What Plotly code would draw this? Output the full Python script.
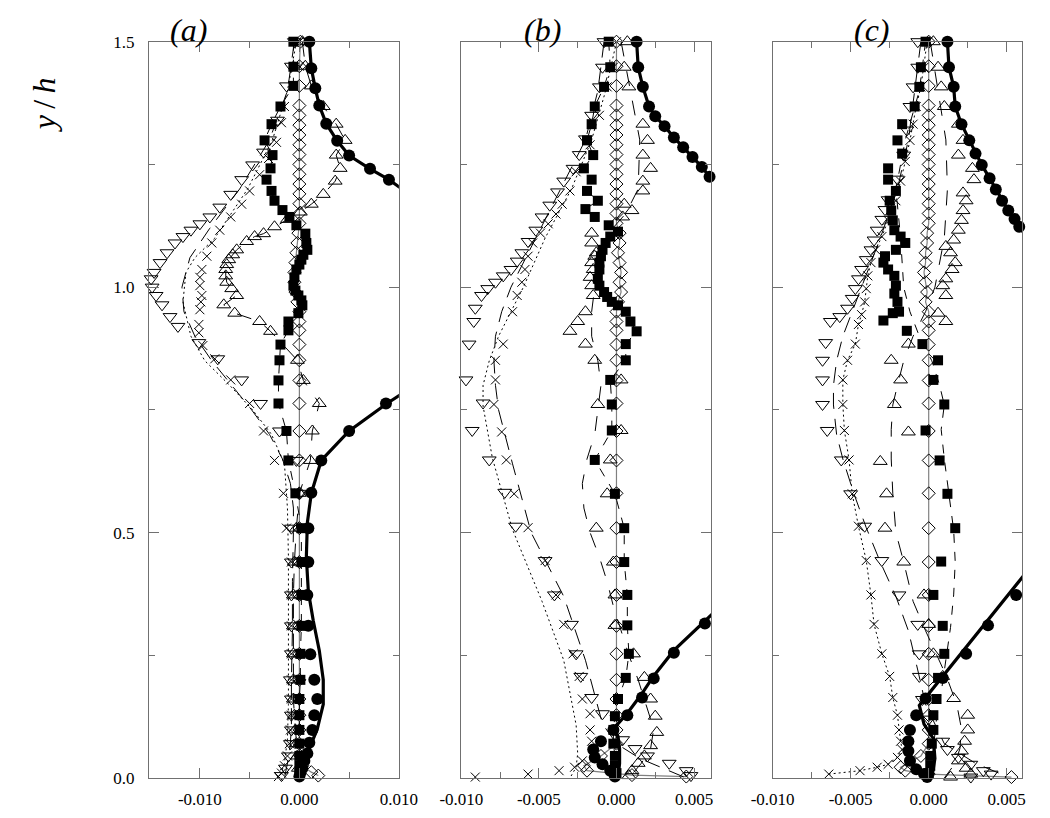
import plotly.graph_objects as go

FONT = "Liberation Serif"

# ---------------- panel (a) : pairs are [y/h, value] ----------------
A_CIRC_UP = [[1.50, 0.0010], [1.446, 0.0012], [1.405, 0.0016], [1.37, 0.0020], [1.333, 0.0027],
             [1.298, 0.0038], [1.268, 0.0050], [1.241, 0.0071], [1.219, 0.0090]]
A_CIRC_UP_LINE = A_CIRC_UP + [[1.203, 0.0101]]
A_CIRC_LO = [[0.763, 0.0087], [0.707, 0.0050], [0.647, 0.0022], [0.581, 0.0012], [0.509, 0.0009],
             [0.44, 0.0009], [0.373, 0.0008], [0.31, 0.0009], [0.252, 0.0011], [0.20, 0.0015],
             [0.161, 0.0018], [0.128, 0.0015], [0.098, 0.0013], [0.072, 0.0010], [0.05, 0.0008],
             [0.035, 0.0005], [0.02, 0.0003], [0.01, 0.0001], [0.003, 0.0]]
A_CIRC_LO_LINE = [[0.78, 0.0101], [0.763, 0.0088], [0.707, 0.0050], [0.647, 0.0022], [0.58, 0.0012],
                  [0.52, 0.0008], [0.45, 0.0007], [0.38, 0.0009], [0.32, 0.0014], [0.26, 0.0020],
                  [0.20, 0.0024], [0.15, 0.0024], [0.10, 0.0018], [0.06, 0.0010], [0.03, 0.0004], [0.0, 0.0]]
A_SQUARE = [[1.5, -0.0006], [1.449, -0.0006], [1.41, -0.0006], [1.368, -0.0019], [1.332, -0.0028],
            [1.299, -0.0035], [1.269, -0.0027], [1.242, -0.0029], [1.219, -0.0033], [1.196, -0.0028],
            [1.176, -0.0025], [1.157, -0.0017], [1.143, -0.0010], [1.126, -0.0003], [1.109, 0.0006],
            [1.09, 0.0007], [1.076, 0.0008], [1.066, 0.0004], [1.056, 0.0002], [1.046, 0.0],
            [1.036, -0.0003], [1.02, -0.0005], [1.003, -0.0006], [0.993, -0.0004], [0.983, -0.0001],
            [0.973, 0.0002], [0.963, 0.0003], [0.947, -0.0001], [0.930, -0.0011], [0.912, -0.0011],
            [0.883, -0.0019], [0.851, -0.0020], [0.81, -0.0021], [0.763, -0.0021], [0.707, -0.0013],
            [0.647, -0.0011], [0.58, -0.0004], [0.509, 0.0002], [0.44, 0.0002], [0.373, 0.0002],
            [0.31, 0.0002], [0.253, 0.0001], [0.2, 0.0001], [0.161, 0.0], [0.128, 0.0], [0.098, 0.0],
            [0.07, 0.0], [0.045, 0.0], [0.025, 0.0], [0.01, 0.0]]
A_DIAMOND = [[1.5, 0.0001], [1.45, 0.0], [1.41, 0.0], [1.37, 0.0], [1.35, 0.0], [1.33, 0.0], [1.31, 0.0],
             [1.29, 0.0], [1.27, 0.0], [1.25, 0.0], [1.23, 0.0], [1.21, 0.0], [1.19, 0.0], [1.17, 0.0],
             [1.15, 0.0], [1.13, 0.0], [1.11, -0.0001], [1.09, -0.0002], [1.07, -0.0003], [1.05, -0.0004],
             [1.03, -0.0005], [1.01, -0.0005], [0.99, -0.0004], [0.97, -0.0002], [0.95, 0.0], [0.93, 0.0],
             [0.912, 0.0], [0.883, 0.0], [0.851, 0.0], [0.81, 0.0], [0.763, 0.0], [0.707, 0.0],
             [0.647, 0.0], [0.58, 0.0], [0.509, 0.0], [0.44, 0.0], [0.373, 0.0], [0.31, 0.0],
             [0.253, 0.0], [0.2, 0.0], [0.161, 0.0], [0.128, 0.0], [0.098, 0.0], [0.07, 0.0],
             [0.045, 0.0001], [0.025, 0.0003], [0.012, 0.0012], [0.005, 0.0019]]
A_TRI_UP = [[1.5, 0.0003], [1.45, 0.0006], [1.41, 0.0012], [1.368, 0.0024], [1.332, 0.0037],
            [1.299, 0.0046], [1.269, 0.0037], [1.242, 0.0041], [1.216, 0.0036], [1.189, 0.0024],
            [1.169, 0.0012], [1.153, 0.0001], [1.138, -0.0012], [1.123, -0.0025], [1.109, -0.0036],
            [1.103, -0.0045], [1.093, -0.0053], [1.076, -0.0063], [1.066, -0.0067], [1.056, -0.0071],
            [1.046, -0.0073], [1.036, -0.0074], [1.023, -0.0074], [1.01, -0.0073], [0.997, -0.0068],
            [0.983, -0.0063], [0.964, -0.0076], [0.947, -0.0065], [0.930, -0.0040], [0.910, -0.0029],
            [0.851, -0.0002], [0.81, 0.0004], [0.763, 0.0020], [0.707, 0.0013], [0.647, 0.0011],
            [0.58, 0.0], [0.509, -0.0003], [0.44, -0.0005], [0.373, -0.0006], [0.31, -0.0006],
            [0.253, -0.0006], [0.2, -0.0006], [0.161, -0.0006], [0.128, -0.0005], [0.098, -0.0004],
            [0.07, -0.0003], [0.045, -0.0002], [0.02, -0.0001]]
A_TRI_DN = [[1.5, -0.0005], [1.45, -0.0008], [1.41, -0.0013], [1.34, -0.0022], [1.30, -0.0030],
            [1.275, -0.0036], [1.249, -0.0047], [1.219, -0.0058], [1.189, -0.0069], [1.163, -0.0080],
            [1.143, -0.0090], [1.129, -0.0100], [1.116, -0.0109], [1.103, -0.0117], [1.09, -0.0125],
            [1.07, -0.0133], [1.05, -0.0140], [1.03, -0.0146], [1.017, -0.0149], [1.0, -0.0148],
            [0.983, -0.0144], [0.964, -0.0138], [0.94, -0.0130], [0.92, -0.0122], [0.887, -0.0101],
            [0.854, -0.0082], [0.811, -0.0058], [0.763, -0.0039], [0.707, -0.0020], [0.647, -0.0003],
            [0.58, 0.0], [0.509, -0.0008], [0.44, -0.0008], [0.373, -0.0008], [0.31, -0.0008],
            [0.253, -0.0008], [0.2, -0.0009], [0.161, -0.0008], [0.128, -0.0008], [0.098, -0.0008],
            [0.07, -0.0009], [0.045, -0.0011], [0.02, -0.0014], [0.005, -0.0018]]
A_TRI_DN_LINE = [[1.5, -0.0005], [1.4, -0.0012], [1.3, -0.0030], [1.2, -0.0060], [1.12, -0.0090],
                 [1.06, -0.0110], [1.0, -0.0118], [0.95, -0.0116], [0.9, -0.0105], [0.85, -0.0088],
                 [0.8, -0.0068], [0.75, -0.0048], [0.7, -0.0030], [0.65, -0.0017], [0.6, -0.0009],
                 [0.55, -0.0006], [0.5, -0.0006], [0.4, -0.0007], [0.3, -0.0007], [0.2, -0.0008],
                 [0.1, -0.0008], [0.05, -0.0010], [0.0, -0.0015]]
A_CROSS = [[1.5, 0.0], [1.45, 0.0], [1.41, -0.0006], [1.368, -0.0015], [1.335, -0.0018], [1.295, -0.0023],
           [1.262, -0.0031], [1.229, -0.0040], [1.196, -0.0050], [1.169, -0.0058], [1.143, -0.0069],
           [1.116, -0.0080], [1.09, -0.0088], [1.063, -0.0093], [1.036, -0.0098], [1.02, -0.0100],
           [1.003, -0.0100], [0.983, -0.0098], [0.97, -0.0099], [0.954, -0.0100], [0.924, -0.0101],
           [0.907, -0.0101], [0.881, -0.0097], [0.854, -0.0085], [0.811, -0.0069], [0.763, -0.0050],
           [0.707, -0.0036], [0.647, -0.0025], [0.58, -0.0016], [0.509, -0.0013], [0.44, -0.0008],
           [0.373, -0.0008], [0.31, -0.0008], [0.253, -0.0008], [0.2, -0.0008], [0.161, -0.0008],
           [0.128, -0.0008], [0.098, -0.0009], [0.07, -0.0010], [0.045, -0.0012], [0.025, -0.0015],
           [0.01, -0.0018], [0.003, -0.0021]]
A_CROSS_LINE = [[1.5, -0.0003], [1.4, -0.0012], [1.3, -0.0027], [1.2, -0.0052], [1.1, -0.0085],
                [1.06, -0.0105], [1.03, -0.0114], [0.97, -0.0117], [0.9, -0.0109], [0.85, -0.0095],
                [0.8, -0.0070], [0.75, -0.0047], [0.7, -0.0028], [0.64, -0.0015], [0.55, -0.0012],
                [0.45, -0.0011], [0.35, -0.0011], [0.25, -0.0011], [0.15, -0.0011], [0.08, -0.0012],
                [0.03, -0.0015], [0.0, -0.0020]]

# ---------------- panel (b) ----------------
B_CIRC_UP = [[1.5, 0.0013], [1.448, 0.0014], [1.408, 0.0017], [1.368, 0.0021], [1.348, 0.0025],
             [1.328, 0.0031], [1.305, 0.0037], [1.285, 0.0043], [1.265, 0.0049], [1.245, 0.0055],
             [1.225, 0.0060]]
B_CIRC_UP_LINE = B_CIRC_UP + [[1.218, 0.0062]]
B_CIRC_LO = [[0.315, 0.0057], [0.255, 0.0037], [0.203, 0.0024], [0.164, 0.00165], [0.128, 0.0007],
             [0.098, -0.0002], [0.075, -0.0010], [0.058, -0.0015], [0.042, -0.0014], [0.028, -0.0009],
             [0.015, -0.0004], [0.003, -0.0001]]
B_CIRC_LO_LINE = [[0.335, 0.0062], [0.26, 0.0037], [0.208, 0.0024], [0.17, 0.0016], [0.132, 0.0007],
                  [0.10, -0.0002], [0.085, 0.0001], [0.06, 0.0002], [0.03, 0.0002], [0.0, 0.0001]]
B_SQUARE = [[1.5, -0.0005], [1.448, -0.0004], [1.408, -0.0008], [1.368, -0.0014], [1.332, -0.0016],
            [1.299, -0.0019], [1.269, -0.0015], [1.242, -0.0021], [1.219, -0.0016], [1.196, -0.0019],
            [1.176, -0.0012], [1.159, -0.0020], [1.143, -0.0014], [1.126, -0.0005], [1.113, 0.0001],
            [1.103, -0.0004], [1.09, -0.0007], [1.076, -0.0009], [1.063, -0.0010], [1.05, -0.0011],
            [1.036, -0.0011], [1.017, -0.0012], [1.003, -0.0011], [0.99, -0.0008], [0.98, -0.0006],
            [0.97, -0.0003], [0.963, 0.0001], [0.95, 0.0006], [0.93, 0.0009], [0.91, 0.0013],
            [0.884, 0.0006], [0.851, 0.0006], [0.811, -0.0004], [0.761, -0.0003], [0.708, -0.0003],
            [0.648, -0.0014], [0.579, -0.0001], [0.509, 0.0005], [0.44, 0.0005], [0.373, 0.0007],
            [0.311, 0.0007], [0.253, 0.0008], [0.204, 0.0006], [0.161, 0.0001], [0.126, -0.0001],
            [0.098, -0.0002], [0.07, -0.0002], [0.045, -0.0001], [0.025, -0.0001], [0.01, 0.0]]
B_DIAMOND = [[1.5, 0.0], [1.45, 0.0], [1.41, 0.0], [1.37, 0.0], [1.35, 0.0], [1.33, 0.0], [1.31, 0.0],
             [1.29, 0.0], [1.27, 0.0], [1.25, 0.0], [1.23, 0.0], [1.21, 0.0], [1.19, 0.0], [1.17, 0.0],
             [1.15, 0.0], [1.13, 0.0], [1.11, 0.0002], [1.09, 0.0002], [1.07, 0.0001], [1.05, 0.0002],
             [1.03, 0.0003], [1.01, 0.0002], [0.99, 0.0003], [0.97, 0.0001], [0.95, 0.0], [0.93, 0.0],
             [0.912, 0.0], [0.883, 0.0], [0.851, 0.0], [0.81, 0.0], [0.763, 0.0], [0.707, 0.0],
             [0.647, 0.0], [0.58, 0.0], [0.509, 0.0], [0.44, 0.0], [0.373, 0.0], [0.31, 0.0],
             [0.253, 0.0], [0.2, 0.0], [0.161, 0.0], [0.128, 0.0], [0.098, 0.0], [0.07, 0.0],
             [0.045, -0.0010], [0.025, -0.0021], [0.015, -0.0019], [0.006, 0.0010], [0.003, 0.0045]]
B_TRI_UP = [[1.5, 0.0007], [1.448, 0.0005], [1.408, 0.0008], [1.332, 0.0017], [1.299, 0.0020],
            [1.269, 0.0017], [1.242, 0.0022], [1.216, 0.0017], [1.196, 0.0017], [1.169, 0.0005],
            [1.156, 0.0010], [1.143, 0.0004], [1.11, -0.0016], [1.09, -0.0016], [1.07, -0.0013],
            [1.063, -0.0014], [1.05, -0.0016], [1.036, -0.0015], [1.02, -0.0017], [1.003, -0.0016],
            [0.983, -0.0015], [0.95, -0.0020], [0.93, -0.0025], [0.91, -0.0030], [0.884, -0.0020],
            [0.851, -0.0014], [0.811, 0.0003], [0.761, -0.0012], [0.708, 0.0003], [0.648, -0.0004],
            [0.579, -0.0006], [0.509, -0.0013], [0.44, -0.0002], [0.373, -0.0001], [0.311, -0.0001],
            [0.253, 0.0011], [0.205, 0.0018], [0.161, 0.0022], [0.126, 0.0025], [0.093, 0.0026],
            [0.066, 0.0022], [0.045, 0.0018], [0.03, 0.0014], [0.015, 0.0010], [0.005, 0.0008]]
B_TRI_UP_LINE = [[1.5, 0.0003], [1.4, 0.0009], [1.3, 0.0015], [1.2, 0.0014], [1.15, 0.0006],
                 [1.1, -0.0008], [1.05, -0.0013], [1.0, -0.0014], [0.95, -0.0016], [0.9, -0.0016],
                 [0.85, -0.0012], [0.8, -0.0010], [0.75, -0.0012], [0.7, -0.0014], [0.65, -0.0019],
                 [0.6, -0.0022], [0.55, -0.0021], [0.5, -0.0017], [0.45, -0.0011], [0.4, -0.0006],
                 [0.35, -0.0002], [0.3, 0.0003], [0.25, 0.0008], [0.2, 0.0014], [0.15, 0.0019],
                 [0.1, 0.0024], [0.06, 0.0022], [0.03, 0.0016], [0.0, 0.0008]]
B_TRI_DN = [[1.5, -0.0008], [1.448, -0.0009], [1.408, -0.0011], [1.35, -0.0016], [1.302, -0.0020],
            [1.27, -0.0024], [1.242, -0.0028], [1.216, -0.0034], [1.194, -0.0038], [1.167, -0.0043],
            [1.143, -0.0048], [1.116, -0.0052], [1.093, -0.0057], [1.07, -0.0061], [1.053, -0.0064],
            [1.036, -0.0068], [1.023, -0.0073], [1.01, -0.0078], [0.997, -0.0083], [0.983, -0.0087],
            [0.957, -0.0091], [0.93, -0.0092], [0.884, -0.0095], [0.811, -0.0097], [0.764, -0.0086],
            [0.708, -0.0093], [0.648, -0.0082], [0.582, -0.0072], [0.513, -0.0065], [0.443, -0.0046],
            [0.373, -0.0040], [0.313, -0.0029], [0.253, -0.0026], [0.207, -0.0023], [0.164, -0.0016],
            [0.131, -0.0009], [0.078, 0.0004], [0.06, 0.0012], [0.045, 0.0020], [0.03, 0.0034],
            [0.015, 0.0045], [0.005, 0.0048]]
B_TRI_DN_LINE = [[1.5, -0.0008], [1.4, -0.0012], [1.3, -0.0020], [1.2, -0.0036], [1.1, -0.0052],
                 [1.05, -0.0060], [1.0, -0.0068], [0.95, -0.0074], [0.9, -0.0078], [0.85, -0.0079],
                 [0.8, -0.0078], [0.75, -0.0076], [0.7, -0.0072], [0.64, -0.0067], [0.5, -0.0055],
                 [0.37, -0.0034], [0.24, -0.0020], [0.11, -0.0009], [0.07, 0.0], [0.04, 0.0015],
                 [0.02, 0.0030], [0.0, 0.0045]]
B_CROSS = [[1.5, 0.0], [1.448, -0.0002], [1.408, -0.0006], [1.35, -0.0011], [1.29, -0.0017],
           [1.235, -0.0026], [1.196, -0.0030], [1.169, -0.0035], [1.149, -0.0039], [1.129, -0.0044],
           [1.11, -0.0049], [1.09, -0.0054], [1.063, -0.0057], [1.036, -0.0059], [1.01, -0.0061],
           [0.983, -0.0064], [0.95, -0.0067], [0.884, -0.0073], [0.851, -0.0078], [0.811, -0.0078],
           [0.761, -0.0079], [0.705, -0.0074], [0.648, -0.0071], [0.579, -0.0066], [0.51, -0.0057],
           [0.443, -0.0046], [0.373, -0.0039], [0.313, -0.0034], [0.253, -0.0028], [0.207, -0.0024],
           [0.161, -0.0022], [0.131, -0.0017], [0.098, -0.0017], [0.075, -0.0016], [0.035, -0.0022],
           [0.022, -0.0027], [0.015, -0.0037], [0.008, -0.0057], [0.002, -0.0091]]
B_CROSS_LINE = [[1.5, 0.0], [1.4, -0.0007], [1.3, -0.0016], [1.2, -0.0029], [1.1, -0.0046],
                [1.05, -0.0053], [1.0, -0.0060], [0.95, -0.0068], [0.9, -0.0076], [0.85, -0.0082],
                [0.8, -0.0086], [0.758, -0.0086], [0.652, -0.0080], [0.506, -0.0067], [0.36, -0.0048],
                [0.24, -0.0034], [0.108, -0.0026], [0.05, -0.0025], [0.022, -0.0026], [0.0, -0.0030]]

# ---------------- panel (c) ----------------
C_CIRC_UP = [[1.5, 0.0012], [1.448, 0.0013], [1.408, 0.0016], [1.368, 0.0017], [1.332, 0.0021],
             [1.299, 0.0026], [1.272, 0.0030], [1.249, 0.0034], [1.222, 0.0039], [1.199, 0.0043],
             [1.176, 0.0047], [1.156, 0.0051], [1.139, 0.0055], [1.123, 0.0058]]
C_CIRC_UP_LINE = C_CIRC_UP + [[1.11, 0.0061]]
C_CIRC_LO = [[0.373, 0.0056], [0.311, 0.0038], [0.253, 0.0024], [0.204, 0.0009], [0.162, -0.0002],
             [0.128, -0.0008], [0.098, -0.0012], [0.075, -0.0013], [0.055, -0.0013], [0.035, -0.0012],
             [0.018, -0.0008], [0.008, -0.0003], [0.002, -0.0001]]
C_CIRC_LO_LINE = [[0.413, 0.0061], [0.294, 0.0031], [0.214, 0.0011], [0.148, -0.0006], [0.11, -0.0003],
                  [0.08, 0.0003], [0.04, 0.0004], [0.0, 0.0002]]
C_SQUARE = [[1.5, -0.0002], [1.448, -0.0005], [1.408, -0.0006], [1.368, -0.0009], [1.332, -0.0017],
            [1.299, -0.0020], [1.272, -0.0017], [1.242, -0.0026], [1.219, -0.0026], [1.196, -0.0021],
            [1.176, -0.0025], [1.156, -0.0024], [1.136, -0.0023], [1.116, -0.0022], [1.103, -0.0018],
            [1.09, -0.0015], [1.076, -0.0021], [1.063, -0.0028], [1.05, -0.0029], [1.036, -0.0026],
            [1.023, -0.0022], [1.003, -0.0021], [0.987, -0.0022], [0.97, -0.0020], [0.95, -0.0019],
            [0.947, -0.0023], [0.932, -0.0029], [0.911, -0.0014], [0.884, -0.0004], [0.851, 0.0006],
            [0.811, 0.0003], [0.761, 0.0010], [0.708, -0.0002], [0.647, 0.0007], [0.579, 0.0012],
            [0.509, 0.0017], [0.441, 0.0008], [0.373, 0.0003], [0.31, 0.0009], [0.253, 0.0010],
            [0.204, 0.0006], [0.161, 0.0005], [0.128, 0.0003], [0.098, 0.0003], [0.07, 0.0002],
            [0.045, 0.0001], [0.025, 0.0001], [0.01, 0.0]]
C_SQUARE_LINE = [[1.5, -0.0002], [1.4, -0.0006], [1.3, -0.0015], [1.2, -0.0021], [1.1, -0.0018],
                 [1.0, -0.0016], [0.95, -0.0012], [0.9, -0.0006], [0.85, 0.0002], [0.8, 0.0007],
                 [0.76, 0.0010], [0.71, 0.0008], [0.65, 0.0010], [0.58, 0.0013], [0.505, 0.0016],
                 [0.44, 0.0017], [0.373, 0.0016], [0.307, 0.0014], [0.24, 0.0011], [0.174, 0.0008],
                 [0.12, 0.0005], [0.06, 0.0003], [0.0, 0.0]]
C_DIAMOND = [[1.5, 0.0], [1.45, 0.0], [1.41, 0.0], [1.37, 0.0], [1.35, 0.0], [1.33, 0.0], [1.31, 0.0],
             [1.29, 0.0], [1.27, 0.0], [1.25, 0.0], [1.23, 0.0], [1.21, 0.0], [1.19, 0.0], [1.17, 0.0],
             [1.15, 0.0], [1.13, 0.0], [1.11, -0.0001], [1.09, -0.0001], [1.07, -0.0002], [1.05, -0.0002],
             [1.03, -0.0003], [1.01, -0.0002], [0.99, -0.0001], [0.97, -0.0002], [0.95, 0.0], [0.93, 0.0],
             [0.912, 0.0], [0.883, 0.0], [0.851, 0.0], [0.81, 0.0], [0.763, 0.0], [0.707, 0.0],
             [0.647, 0.0], [0.58, 0.0], [0.509, 0.0], [0.44, 0.0], [0.373, 0.0], [0.31, 0.0],
             [0.253, 0.0], [0.2, 0.0], [0.161, 0.0], [0.128, 0.0], [0.098, 0.0], [0.07, 0.0],
             [0.045, -0.0005], [0.022, -0.0018], [0.015, -0.0015], [0.008, 0.0], [0.002, 0.0053]]
C_TRI_UP = [[1.5, 0.0003], [1.448, 0.0006], [1.408, 0.0008], [1.368, 0.0010], [1.332, 0.0019],
            [1.299, 0.0022], [1.269, 0.0019], [1.242, 0.0028], [1.219, 0.0029], [1.192, 0.0022],
            [1.176, 0.0024], [1.156, 0.0022], [1.136, 0.0021], [1.116, 0.0019], [1.096, 0.0016],
            [1.083, 0.0011], [1.07, 0.0014], [1.05, 0.0017], [1.036, 0.0015], [1.017, 0.0011],
            [1.003, 0.0009], [0.983, 0.0011], [0.947, 0.0006], [0.93, 0.0011], [0.884, -0.0013],
            [0.851, -0.0024], [0.811, -0.0018], [0.761, -0.0022], [0.705, -0.0013], [0.645, -0.0031],
            [0.579, -0.0027], [0.509, -0.0028], [0.44, -0.0016], [0.373, -0.0003], [0.313, 0.0],
            [0.253, 0.0003], [0.207, 0.0009], [0.162, 0.0016], [0.128, 0.0025], [0.098, 0.0025],
            [0.075, 0.0023], [0.055, 0.0021], [0.035, 0.0019], [0.02, 0.0024], [0.008, 0.0027],
            [0.002, 0.0014]]
C_TRI_UP_LINE = [[1.5, 0.0001], [1.4, 0.0006], [1.3, 0.0011], [1.2, 0.0012], [1.1, 0.0010],
                 [1.0, 0.0004], [0.95, -0.0002], [0.9, -0.0010], [0.85, -0.0016], [0.8, -0.0020],
                 [0.76, -0.0023], [0.71, -0.0024], [0.65, -0.0024], [0.58, -0.0023], [0.5, -0.0021],
                 [0.44, -0.0016], [0.36, -0.0010], [0.3, -0.0002], [0.21, 0.0011], [0.15, 0.0018],
                 [0.1, 0.0021], [0.06, 0.0020], [0.03, 0.0017], [0.0, 0.0010]]
C_TRI_DN = [[1.5, -0.0007], [1.448, -0.0007], [1.408, -0.0010], [1.368, -0.0012], [1.32, -0.0014],
            [1.269, -0.0016], [1.22, -0.0020], [1.178, -0.0026], [1.158, -0.0028], [1.138, -0.0030],
            [1.116, -0.0033], [1.096, -0.0035], [1.076, -0.0037], [1.056, -0.0040], [1.036, -0.0043],
            [1.017, -0.0045], [0.997, -0.0047], [0.977, -0.0049], [0.957, -0.0052], [0.94, -0.0057],
            [0.93, -0.0063], [0.887, -0.0066], [0.851, -0.0068], [0.811, -0.0068], [0.761, -0.0068],
            [0.708, -0.0065], [0.648, -0.0056], [0.579, -0.0050], [0.513, -0.0041], [0.443, -0.0030],
            [0.373, -0.0019], [0.313, -0.0007], [0.253, -0.0006], [0.207, -0.0006], [0.16, -0.0004],
            [0.12, 0.0], [0.075, 0.0009], [0.058, 0.0012], [0.042, 0.0019], [0.028, 0.0027],
            [0.015, 0.0035], [0.008, 0.0040], [0.002, 0.0027]]
C_TRI_DN_LINE = [[1.5, -0.0005], [1.4, -0.0009], [1.3, -0.0013], [1.2, -0.0020], [1.1, -0.0031],
                 [1.0, -0.0043], [0.95, -0.0049], [0.9, -0.0055], [0.85, -0.0059], [0.8, -0.0061],
                 [0.76, -0.0061], [0.70, -0.0059], [0.65, -0.0055], [0.58, -0.0048], [0.51, -0.0040],
                 [0.44, -0.0031], [0.37, -0.0021], [0.30, -0.0013], [0.22, -0.0007], [0.15, -0.0002],
                 [0.07, 0.0010], [0.03, 0.0030], [0.01, 0.0045], [0.0, 0.0050]]
C_CROSS = [[1.5, -0.0001], [1.448, -0.0003], [1.408, -0.0005], [1.368, -0.0008], [1.332, -0.0010],
           [1.299, -0.0012], [1.256, -0.0015], [1.216, -0.0018], [1.176, -0.0021], [1.136, -0.0026],
           [1.103, -0.0030], [1.076, -0.0034], [1.05, -0.0037], [1.023, -0.0039], [0.997, -0.0040],
           [0.97, -0.0041], [0.944, -0.0043], [0.924, -0.0045], [0.884, -0.0047], [0.851, -0.0052],
           [0.811, -0.0055], [0.761, -0.0055], [0.708, -0.0054], [0.648, -0.0051], [0.579, -0.0049],
           [0.513, -0.0045], [0.443, -0.0040], [0.373, -0.0037], [0.313, -0.0035], [0.253, -0.0030],
           [0.207, -0.0025], [0.164, -0.0023], [0.128, -0.0020], [0.098, -0.0019], [0.075, -0.0018],
           [0.058, -0.0017], [0.042, -0.0020], [0.028, -0.0026], [0.022, -0.0033], [0.015, -0.0044],
           [0.008, -0.0064]]

PANELS = [
    dict(circ_up=A_CIRC_UP, circ_up_line=A_CIRC_UP_LINE, circ_lo=A_CIRC_LO, circ_lo_line=A_CIRC_LO_LINE,
         square=A_SQUARE, square_line=A_SQUARE, diamond=A_DIAMOND, tri_up=A_TRI_UP, tri_up_line=A_TRI_UP,
         tri_dn=A_TRI_DN, tri_dn_line=A_TRI_DN_LINE, cross=A_CROSS, cross_line=A_CROSS_LINE),
    dict(circ_up=B_CIRC_UP, circ_up_line=B_CIRC_UP_LINE, circ_lo=B_CIRC_LO, circ_lo_line=B_CIRC_LO_LINE,
         square=B_SQUARE, square_line=B_SQUARE, diamond=B_DIAMOND, tri_up=B_TRI_UP, tri_up_line=B_TRI_UP_LINE,
         tri_dn=B_TRI_DN, tri_dn_line=B_TRI_DN_LINE, cross=B_CROSS, cross_line=B_CROSS_LINE),
    dict(circ_up=C_CIRC_UP, circ_up_line=C_CIRC_UP_LINE, circ_lo=C_CIRC_LO, circ_lo_line=C_CIRC_LO_LINE,
         square=C_SQUARE, square_line=C_SQUARE_LINE, diamond=C_DIAMOND, tri_up=C_TRI_UP, tri_up_line=C_TRI_UP_LINE,
         tri_dn=C_TRI_DN, tri_dn_line=C_TRI_DN_LINE, cross=C_CROSS, cross_line=C_CROSS),
]
PANEL_LABELS = ["(a)", "(b)", "(c)"]
X_RANGES = [[-0.0151, 0.0100], [-0.0100, 0.0061], [-0.0100, 0.0060]]
X_TICKS = [[-0.010, 0.0, 0.010], [-0.010, -0.005, 0.0, 0.005], [-0.010, -0.005, 0.0, 0.005]]
X_TICKTEXT = [["-0.010", "0.000", "0.010"], ["-0.010", "-0.005", "0.000", "0.005"],
              ["-0.010", "-0.005", "0.000", "0.005"]]
X_MINOR = [0.005, 0.0025, 0.0025]
Y_TICKS = [0.0, 0.5, 1.0, 1.5]
Y_TICKTEXT = ["0.0", "0.5", "1.0", "1.5"]

# the page body adds an 8 px margin on every side: size the figure so the page is exactly 1050x818
OFF = 8
W, H = 1050 - OFF, 818 - 2 * OFF
X_DOMAINS_PX = [(132, 392), (457, 717), (781, 1041)]
Y_DOMAIN_PX = (33.3, 787.5)
LABEL_X_PX = [173, 541, 885]
LABEL_Y_PX = 21
YTITLE_PX = (22, 98)

K = "black"
MARK = {
    "circ": dict(symbol="circle", size=12, color=K, line=dict(width=0)),
    "square": dict(symbol="square", size=10, color=K, line=dict(width=0)),
    "diamond": dict(symbol="diamond-open", size=10, color=K, line=dict(width=1, color=K)),
    "tri_up": dict(symbol="triangle-up-open", size=12, color=K, line=dict(width=1, color=K)),
    "tri_dn": dict(symbol="triangle-down-open", size=12, color=K, line=dict(width=1, color=K)),
    "cross": dict(symbol="x-thin-open", size=9, color=K, line=dict(width=1, color=K)),
}
LINE = {
    "circ": dict(color=K, width=3.2),
    "square": dict(color=K, width=1, dash="dash"),
    "diamond": dict(color="#808080", width=1.2),
    "tri_up": dict(color=K, width=1, dash="longdash"),
    "tri_dn": dict(color=K, width=1, dash="16px,10px"),
    "cross": dict(color=K, width=1, dash="2px,3px"),
}


def split(pairs):
    return [p[1] for p in pairs], [p[0] for p in pairs]


def fx(px):
    return (px - OFF) / W


def fy(py):
    return 1 - (py - OFF) / H


fig = go.Figure()
for i, P in enumerate(PANELS):
    xa = "x" if i == 0 else f"x{i + 1}"
    ya = "y" if i == 0 else f"y{i + 1}"

    def add_line(pairs, key):
        x, y = split(pairs)
        fig.add_trace(go.Scatter(x=x, y=y, mode="lines", line=LINE[key], xaxis=xa, yaxis=ya,
                                 showlegend=False, hoverinfo="skip"))

    def add_marks(pairs, key):
        x, y = split(pairs)
        fig.add_trace(go.Scatter(x=x, y=y, mode="markers", marker=MARK[key], xaxis=xa, yaxis=ya,
                                 showlegend=False, cliponaxis=False))

    add_line(P["diamond"], "diamond")
    add_line(P["cross_line"], "cross")
    add_line(P["tri_dn_line"], "tri_dn")
    add_line(P["tri_up_line"], "tri_up")
    add_line(P["square_line"], "square")
    add_marks(P["diamond"], "diamond")
    add_marks(P["cross"], "cross")
    add_marks(P["tri_dn"], "tri_dn")
    add_marks(P["tri_up"], "tri_up")
    add_marks(P["square"], "square")
    add_line(P["circ_up_line"], "circ")
    add_line(P["circ_lo_line"], "circ")
    add_marks(P["circ_up"], "circ")
    add_marks(P["circ_lo"], "circ")

axis_common = dict(ticks="inside", ticklen=10, tickwidth=1, tickcolor="#707070", showline=True,
                   linecolor="#707070", linewidth=1.2, mirror="ticks", zeroline=False, showgrid=False,
                   tickfont=dict(family=FONT, size=17, color=K))
yd = [fy(Y_DOMAIN_PX[1]), fy(Y_DOMAIN_PX[0])]
layout = dict(width=W, height=H, margin=dict(l=0, r=0, t=0, b=0), plot_bgcolor="white",
              paper_bgcolor="white", showlegend=False)
for i in range(3):
    sx = "" if i == 0 else str(i + 1)
    xd = [fx(X_DOMAINS_PX[i][0]), fx(X_DOMAINS_PX[i][1])]
    layout["xaxis" + sx] = dict(axis_common, domain=xd, range=X_RANGES[i], tickvals=X_TICKS[i],
                                ticktext=X_TICKTEXT[i], anchor="y" + sx, ticklabelstandoff=5,
                                minor=dict(dtick=X_MINOR[i], tick0=0, ticks="inside", ticklen=6,
                                           tickcolor="#707070", showgrid=False))
    layout["yaxis" + sx] = dict(axis_common, domain=yd, range=[0, 1.5], tickvals=Y_TICKS,
                                ticktext=Y_TICKTEXT, anchor="x" + sx, showticklabels=(i == 0),
                                ticklabelstandoff=10,
                                minor=dict(dtick=0.25, tick0=0, ticks="inside", ticklen=6,
                                           tickcolor="#707070", showgrid=False))
fig.update_layout(**layout)

for i, lab in enumerate(PANEL_LABELS):
    fig.add_annotation(text=f"<i>{lab}</i>", x=fx(LABEL_X_PX[i]), y=fy(LABEL_Y_PX), xref="paper",
                       yref="paper", showarrow=False, font=dict(family=FONT, size=32, color=K),
                       xanchor="center", yanchor="middle")
fig.add_annotation(text="<i>y</i>\u2009/\u2009<i>h</i>", x=fx(YTITLE_PX[0]), y=fy(YTITLE_PX[1]),
                   xref="paper", yref="paper", showarrow=False, textangle=-90,
                   font=dict(family=FONT, size=32, color=K), xanchor="center", yanchor="middle")

fig.write_html("out.html")
